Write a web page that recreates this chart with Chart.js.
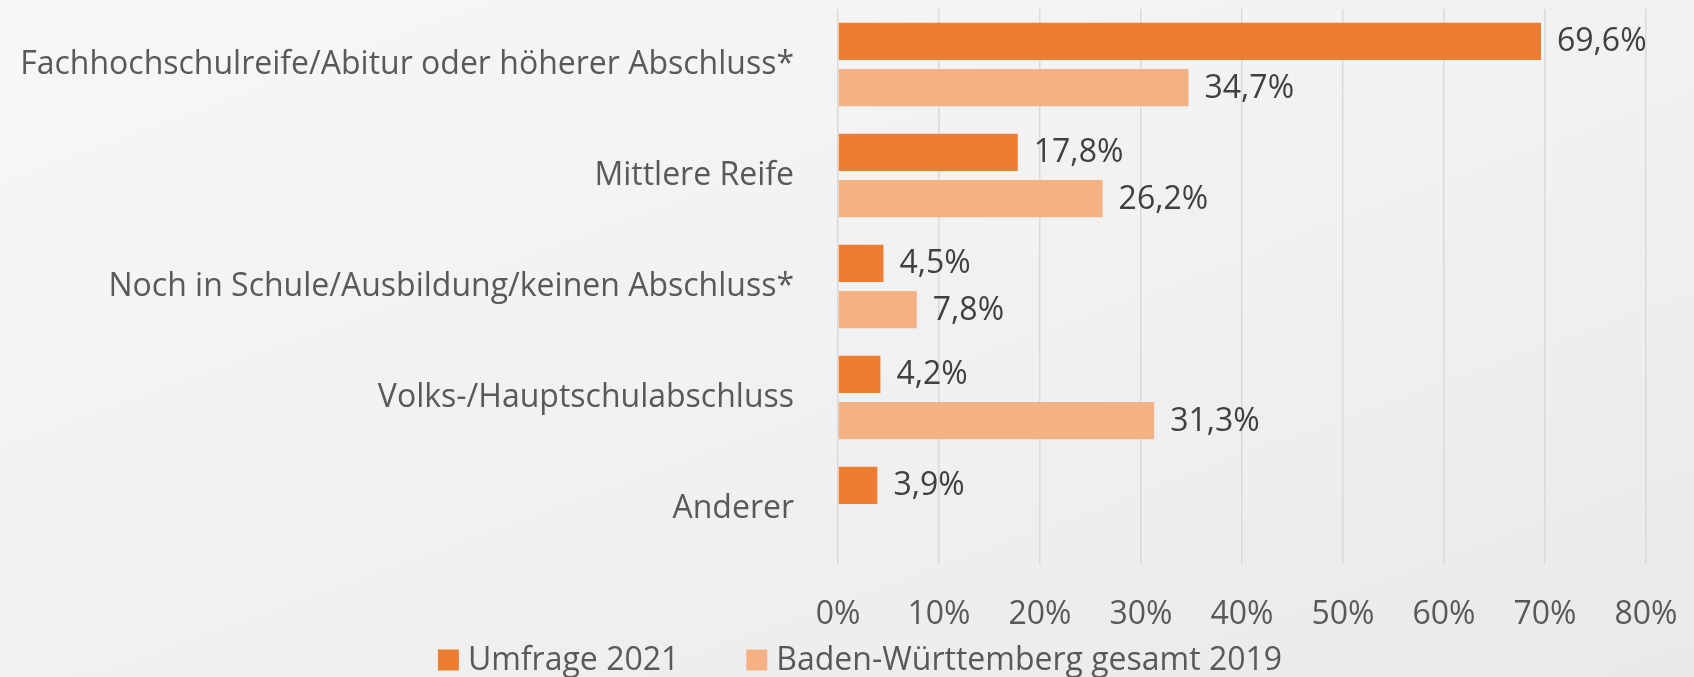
<!DOCTYPE html>
<html>
<head>
<meta charset="utf-8">
<script src="https://cdn.jsdelivr.net/npm/chart.js@4/dist/chart.umd.min.js"></script>
<style>
  html, body { margin: 0; padding: 0; }
  body {
    width: 1694px; height: 677px; overflow: hidden;
    background: linear-gradient(160deg, #f7f7f7 0%, #f0f0f0 60%, #e9e9e9 100%);
  }
  #wrap { position: relative; width: 1694px; height: 677px; }
</style>
</head>
<body>
<div id="wrap"><canvas id="diagram"></canvas></div>
<script>
const categories = [
    'Fachhochschulreife/Abitur oder höherer Abschluss*',
    'Mittlere Reife',
    'Noch in Schule/Ausbildung/keinen Abschluss*',
    'Volks-/Hauptschulabschluss',
    'Anderer'
];
const umfrage2021 = [69.6, 17.8, 4.5, 4.2, 3.9];
const bw2019 = [34.7, 26.2, 7.8, 31.3, null];
const seriesNames = ['Umfrage 2021', 'Baden-Württemberg gesamt 2019'];
const seriesColors = ['#ED7D31', '#F4B183'];
const xTicks = [0, 10, 20, 30, 40, 50, 60, 70, 80];

const FONT = '"Open Sans", sans-serif';
const FSIZE = 32;

// value labels at the end of each bar
const barLabels = {
    id: 'barLabels',
    afterDatasetsDraw(chart) {
        const ctx = chart.ctx;
        ctx.save();
        ctx.font = FSIZE + 'px ' + FONT;
        ctx.fillStyle = '#404040';
        ctx.textBaseline = 'middle';
        ctx.textAlign = 'left';
        chart.data.datasets.forEach((ds, i) => {
            chart.getDatasetMeta(i).data.forEach((bar, j) => {
                const v = ds.data[j];
                if (v == null) return;
                ctx.fillText(v.toFixed(1).replace('.', ',') + '%', bar.x + 16, bar.y + 1);
            });
        });
        ctx.restore();
    }
};

// legend under the axis labels, drawn by hand so it can sit close to them
const bottomLegend = {
    id: 'bottomLegend',
    afterDraw(chart) {
        const ctx = chart.ctx;
        ctx.save();
        ctx.font = FSIZE + 'px ' + FONT;
        ctx.textBaseline = 'middle';
        ctx.textAlign = 'left';
        const box = 21, gapText = 9, gapItem = 67;
        const widths = seriesNames.map(n => box + gapText + ctx.measureText(n).width);
        const total = widths.reduce((a, b) => a + b, 0) + gapItem * (widths.length - 1);
        let x = 860 - total / 2;
        const y = 660;
        seriesNames.forEach((name, i) => {
            ctx.fillStyle = seriesColors[i];
            ctx.fillRect(x, y - box / 2, box, box);
            ctx.fillStyle = '#595959';
            ctx.fillText(name, x + box + gapText, y + 1);
            x += widths[i] + gapItem;
        });
        ctx.restore();
    }
};

const diagram = document.getElementById('diagram').getContext('2d');
const myChart = new Chart(diagram, {
    type: 'bar',
    data: {
        labels: categories,
        datasets: [{
            label: seriesNames[0],
            data: umfrage2021,
            backgroundColor: seriesColors[0],
            borderWidth: 0
        }, {
            label: seriesNames[1],
            data: bw2019,
            backgroundColor: seriesColors[1],
            borderWidth: 0
        }]
    },
    options: {
        indexAxis: 'y',
        responsive: true,
        maintainAspectRatio: false,
        animation: false,
        categoryPercentage: 0.834,
        barPercentage: 0.806,
        layout: { padding: { left: 0, right: 48, top: 9, bottom: 49 } },
        plugins: {
            legend: { display: false },
            tooltip: { enabled: false }
        },
        scales: {
            x: {
                min: 0,
                max: 80,
                afterBuildTicks(axis) { axis.ticks = xTicks.map(v => ({ value: v })); },
                afterFit(scale) {
                    scale.height = 64;
                    scale.paddingLeft = 0;
                    scale.paddingRight = 0;
                },
                grid: { color: '#d9d9d9', lineWidth: 1.5, drawTicks: false },
                border: { display: false },
                ticks: {
                    color: '#595959',
                    padding: 32,
                    font: { family: FONT, size: FSIZE },
                    callback: v => v + '%'
                }
            },
            y: {
                afterFit(scale) {
                    scale.width = 838;
                    scale.paddingTop = 0;
                    scale.paddingBottom = 0;
                },
                grid: { display: false },
                border: { display: false },
                ticks: {
                    color: '#595959',
                    padding: 36,
                    font: { family: FONT, size: FSIZE }
                }
            }
        }
    },
    plugins: [barLabels, bottomLegend]
});
</script>
</body>
</html>
